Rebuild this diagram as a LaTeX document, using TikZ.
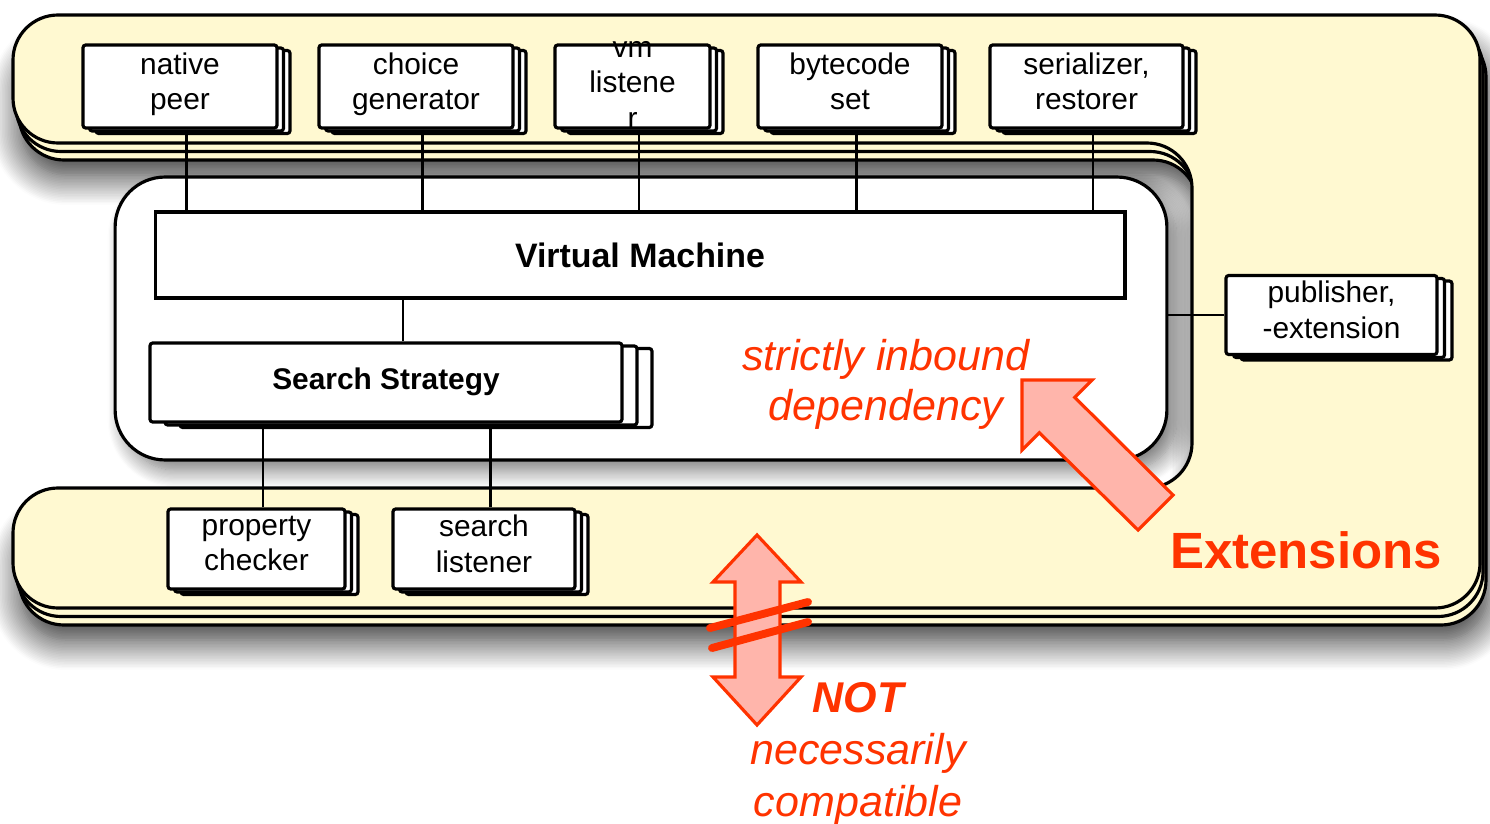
\documentclass[tikz,border=0pt]{standalone}
\usepackage{fontspec}
\setmainfont{Liberation Sans}
\usepackage{tikz}
\usetikzlibrary{shadows,shadows.blur}
\definecolor{paper}{rgb}{1.00,0.976,0.82}
\definecolor{alarm}{rgb}{1.00,0.20,0.00}
\definecolor{blush}{rgb}{1.00,0.71,0.67}

\begin{document}
\begin{tikzpicture}[x=0.02cm,y=-0.02cm,
    ext/.style={draw,fill=paper,line width=1.8pt,rounded corners=0.9cm},
    stackbox/.style={draw,fill=white,line width=1.8pt,rounded corners=1.5pt,
      align=center,inner sep=0pt,font=\fontsize{17}{20}\selectfont,
      execute at begin node=\strut,execute at end node=\strut,
      general shadow={shadow xshift=2*#1,shadow yshift=-0.11cm,draw,fill=white,line width=1.8pt},
      general shadow={shadow xshift=#1,shadow yshift=-0.06cm,draw,fill=white,line width=1.8pt}},
    stackbox/.default=0.13cm,
    wire/.style={line width=1.3pt},
    fat/.style={fill=blush,draw=alarm,line width=1.8pt,line join=miter},
    note/.style={text=alarm,align=center,font=\itshape\fontsize{24.5}{28.5}\selectfont}]
  \useasboundingbox (0,0) rectangle (1490,824);
  % extension frame: top band, right column, bottom band
  \def\extoutline{(600,15) -- (1480,15) -- (1480,608) -- (13,608) -- (13,488)
    -- (1192,488) -- (1192,143) -- (13,143) -- (13,15) -- cycle}
  \draw[ext,shift={(6,17)},
    blur shadow={shadow xshift=0.04cm,shadow yshift=-0.3cm,shadow blur radius=0.6cm,
      shadow blur steps=20,shadow opacity=85}]
    \extoutline;
  \foreach \dx/\dy in {3/8.5,0/0}{
    \draw[ext,shift={(\dx,\dy)}] \extoutline;
  }
  % core box, its shadow kept inside the cut-out
  \begin{scope}
    \clip[rounded corners=0.9cm] (0,158) -- (1192,158) -- (1192,488) -- (0,488) -- cycle;
    \node[draw,fill=white,line width=1.8pt,rounded corners=1cm,
      minimum width=21.04cm,minimum height=5.66cm,
      blur shadow={shadow xshift=0.2cm,shadow yshift=-0.2cm,shadow blur radius=0.35cm,
        shadow blur steps=15,shadow opacity=55}]
      (core) at (641,318.5) {};
  \end{scope}
  \node[draw,fill=white,line width=1.8pt,inner sep=0pt,minimum width=19.4cm,minimum height=1.72cm,
    font=\bfseries\fontsize{19.3}{23}\selectfont] (vm) at (640,255) {Virtual Machine};
  % top extensions
  \foreach \name/\x/\w/\txt in {np/180/3.88/{native\\peer}, cg/416/3.88/{choice\\generator},
      vl/632.5/3.1/{\smash{\begin{tabular}{@{}c@{}}vm\\listene\\r\end{tabular}}},
      bs/850/3.68/{bytecode\\set}, sr/1086.5/3.86/{serializer,\\restorer}}{
    \node[stackbox,minimum width=\w cm,minimum height=1.66cm] (\name) at (\x,86.5) {\txt};
    \draw[wire] ([xshift=0.13cm]\name.south) -- ([xshift=0.13cm]\name.south |- vm.north);
  }
  % search side
  \node[stackbox=0.3cm,minimum width=9.44cm,minimum height=1.58cm,
    font=\bfseries\fontsize{17}{20}\selectfont] (ss) at (386,382.5) {Search Strategy};
  \draw[wire] ([xshift=0.34cm]ss.north) -- ([xshift=0.34cm]ss.north |- vm.south);
  \foreach \name/\x/\w/\txt in {pc/256.5/3.54/{property\\checker}, sl/484/3.64/{search\\listener}}{
    \node[stackbox,minimum width=\w cm,minimum height=1.6cm] (\name) at (\x,549) {\txt};
    \draw[wire] ([xshift=0.13cm]\name.north) -- ([xshift=0.13cm]\name.north |- ss.south);
  }
  \node[stackbox=0.15cm,minimum width=4.22cm,minimum height=1.58cm] (pub) at (1331.5,315) {publisher,\\-extension};
  \draw[wire] (pub.west) -- (pub.west -| core.east);
  % red annotations
  \node[note] (inbound) at (886,384) {strictly inbound\\dependency};
  \node[note,font=\bfseries\fontsize{29}{34}\selectfont] (extlabel) at (1306,550) {Extensions};
  \node[note,font=\itshape\fontsize{24.5}{29.6}\selectfont] (compat) at (858,754)
    {\textbf{NOT}\\necessarily\\compatible};
  % fat arrows
  \draw[fat] (1022,380) -- (1092,380) -- (1074.7,397.3) -- (1173,495) -- (1138,530)
    -- (1039.3,432.7) -- (1022,450) -- cycle;
  \draw[fat] (757,535) -- (801,582) -- (780,582) -- (780,677) -- (801,677) -- (757,725)
    -- (713,677) -- (735,677) -- (735,582) -- (713,582) -- cycle;
  \draw[alarm,line width=4.5pt,line cap=round] (710,628) -- (808,602) (712,648) -- (808,622);
\end{tikzpicture}
\end{document}
